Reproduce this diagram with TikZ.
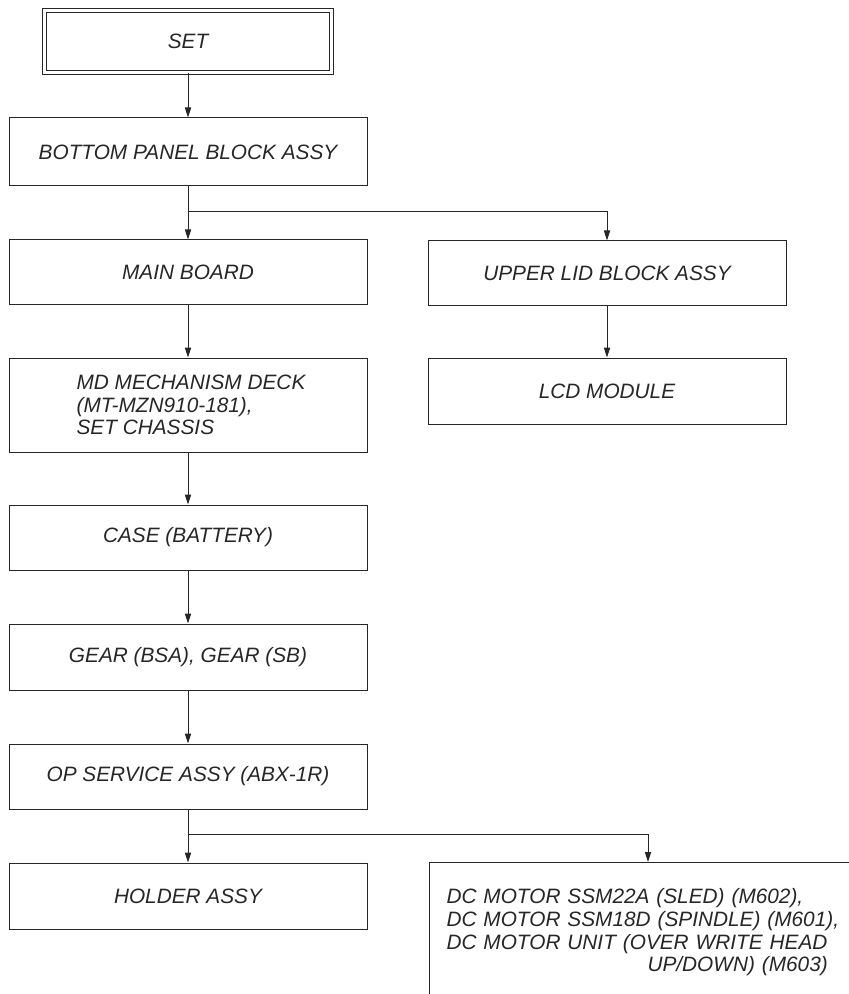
\documentclass[tikz,border=0pt]{standalone}
\usepackage{fontspec}
\setmainfont{Liberation Sans}
\usetikzlibrary{arrows.meta}

\begin{document}
\begin{tikzpicture}[x=0.5pt, y=-0.5pt, line width=0.5pt, draw=black!85,
	>={Triangle[length=5pt,width=3.1pt]},
	part/.style={draw=black!85, text=black!85, inner sep=0pt,
		minimum width=179pt, minimum height=32.5pt,
		font=\fontsize{10.4}{11.3}\selectfont\itshape}]
	
	\useasboundingbox (0,0) rectangle (849,994);
	\clip (0,0) rectangle (849,994);
	
	\node[part, double, double distance=1.5pt, minimum width=143.5pt,
		minimum height=30.75pt] (set) at (188,41.5) {SET};
	
	\node[part, minimum height=34pt] (bottom) at (188,152) {BOTTOM PANEL BLOCK ASSY};
	\node[part] (main) at (188,272.5) {MAIN BOARD};
	\node[part, minimum height=47pt, align=left] (deck) at (188,405)
		{\hspace*{3pt}MD MECHANISM DECK\\\hspace*{3pt}(MT-MZN910-181),\\\hspace*{3pt}SET CHASSIS};
	\node[part] (case) at (188,537.5) {CASE (BATTERY)};
	\node[part, minimum height=33pt] (gear) at (188,657) {GEAR (BSA), GEAR (SB)};
	\node[part] (op) at (188,776.5) {OP SERVICE ASSY (ABX-1R)};
	\node[part, minimum height=33pt] (holder) at (188,896) {HOLDER ASSY};
	
	\node[part] (upper) at (607,273.5) {UPPER LID BLOCK ASSY};
	\node[part, minimum height=33pt] (lcd) at (607,391) {LCD MODULE};
	
	\node[part, anchor=north west, align=left, text width=220pt,
		inner xsep=8.5pt, minimum height=70pt] (motor) at (429,862)
		{DC MOTOR SSM22A (SLED) (M602),\\
		 DC MOTOR SSM18D (SPINDLE) (M601),\\
		 DC MOTOR UNIT (OVER WRITE HEAD\\
		 \hspace*{100.5pt}UP/DOWN) (M603)};
	
	\coordinate (split1) at (188,212);
	\coordinate (split2) at (188,834);
	\coordinate (motortop) at (648,862);
	
	\foreach \a/\b in {set/bottom, bottom/main, main/deck, deck/case,
		case/gear, gear/op, op/holder, upper/lcd} {
		\draw[->] (\a) -- (\b);
	}
	
	\draw[->] (split1) -| (upper.north);
	\draw[->] (split2) -| (motortop);
	
\end{tikzpicture}
\end{document}
